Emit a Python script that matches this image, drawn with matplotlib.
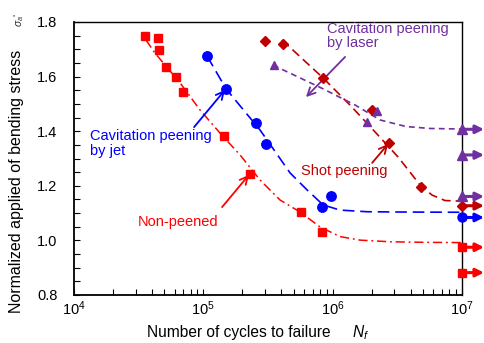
import numpy as np
import matplotlib
matplotlib.use("Agg")
import matplotlib.pyplot as plt
from matplotlib.ticker import LogLocator, MultipleLocator, FormatStrFormatter

plt.rcParams['font.family'] = ['Liberation Sans', 'DejaVu Sans']
plt.rcParams['mathtext.fontset'] = 'custom'
plt.rcParams['mathtext.rm'] = 'Liberation Sans'
plt.rcParams['mathtext.it'] = 'Liberation Sans:italic'

# ---------------- data ----------------
# Non-peened (red squares)
np_N = [35400, 44400, 45700, 51400, 61200, 69400, 143900, 229600, 570000, 824000]
np_S = [1.749, 1.742, 1.697, 1.636, 1.600, 1.544, 1.382, 1.243, 1.105, 1.031]
np_runout = [0.975, 0.882]
np_fit_N = [36000, 42300, 66100, 94200, 134600, 192300, 274800, 391700, 559800, 799800,
            1140000, 1630000, 2780000, 5000000, 10000000]
np_fit_S = [1.734, 1.686, 1.577, 1.478, 1.393, 1.313, 1.221, 1.148, 1.104, 1.049,
            1.014, 1.001, 0.995, 0.993, 0.992]

# Cavitation peening by jet (blue circles)
jet_N = [107400, 150700, 255700, 307000, 831000, 963000]
jet_S = [1.677, 1.555, 1.431, 1.354, 1.123, 1.163]
jet_runout = [1.084]
jet_fit_N = [106900, 150000, 274800, 468800, 633900, 843300, 1140000, 1850000, 3320000, 10000000]
jet_fit_S = [1.675, 1.555, 1.404, 1.247, 1.185, 1.130, 1.111, 1.105, 1.104, 1.103]

# Shot peening (dark red diamonds)
shot_N = [300000, 416000, 848000, 2000000, 2720000, 4830000]
shot_S = [1.732, 1.718, 1.596, 1.477, 1.355, 1.196]
shot_runout = [1.127]
shot_fit_N = [406000, 843300, 1360000, 2130000, 3210000, 4740000, 5870000, 7390000, 10000000]
shot_fit_S = [1.734, 1.595, 1.496, 1.397, 1.305, 1.203, 1.166, 1.146, 1.144]

# Cavitation peening by laser (purple triangles)
laser_N = [354000, 2190000, 1840000]
laser_S = [1.642, 1.474, 1.435]
laser_runout = [1.407, 1.313, 1.161]
laser_fit_N = [346000, 828000, 1490000, 2330000, 3700000, 5660000, 10000000]
laser_fit_S = [1.642, 1.557, 1.496, 1.441, 1.417, 1.410, 1.408]

RED = '#FF0000'
BLUE = '#0000FF'
DRED = '#C00000'
PURP = '#7030A0'

W, H = 485, 343
fig = plt.figure(figsize=(W / 100, H / 100), dpi=100)
ax = fig.add_axes([74 / W, 1 - 295 / H, (462 - 74) / W, (295 - 22) / H])

def fx(x):
    return x / W

def fy(y):
    return 1 - y / H

# fit curves
ax.plot(np_fit_N, np_fit_S, color=RED, lw=1.1, ls=(0, (6, 2.5, 1.2, 2.5)))
ax.plot(jet_fit_N, jet_fit_S, color=BLUE, lw=1.2, ls=(0, (7, 3.5)))
ax.plot(shot_fit_N, shot_fit_S, color=DRED, lw=1.2, ls=(0, (5.5, 3)))
ax.plot(laser_fit_N, laser_fit_S, color=PURP, lw=1.2, ls=(0, (3.5, 2.5)))

# data points
ax.plot(np_N, np_S, 's', color=RED, ms=5.8, zorder=5)
ax.plot(jet_N, jet_S, 'o', color=BLUE, ms=6.8, zorder=5)
ax.plot(shot_N, shot_S, 'D', color=DRED, ms=4.8, zorder=5)
ax.plot(laser_N, laser_S, '^', color=PURP, ms=6.3, zorder=5)

# runouts with arrows
TIP = 1.48e7
def runouts(vals, marker, color, ms):
    for v in vals:
        ax.annotate('', xy=(TIP, v), xytext=(1e7, v), xycoords='data',
                    arrowprops=dict(arrowstyle='-|>', lw=2.2, color=color,
                                    mutation_scale=12, shrinkA=0, shrinkB=0),
                    annotation_clip=False, zorder=6)
        ax.plot([1e7], [v], marker, color=color, ms=ms, clip_on=False, zorder=7)

runouts(np_runout, 's', RED, 6)
runouts(jet_runout, 'o', BLUE, 6.5)
runouts(shot_runout, 'D', DRED, 4.8)
runouts(laser_runout, '^', PURP, 6.5)

# annotation arrows
def arr(tail, head, color):
    ax.annotate('', xy=head, xytext=tail, xycoords='data',
                arrowprops=dict(arrowstyle='->', lw=1.3, color=color,
                                mutation_scale=14, shrinkA=0, shrinkB=0))

arr((84800, 1.415), (147000, 1.551), BLUE)
arr((139600, 1.122), (225300, 1.240), RED)
arr((2020000, 1.284), (2680000, 1.353), DRED)
arr((1247000, 1.672), (622000, 1.525), PURP)

fs = 10.5
fig.text(fx(90), fy(129), 'Cavitation peening\nby jet', color=BLUE, fontsize=fs,
         ha='left', va='top', linespacing=1.05)
fig.text(fx(138), fy(222), 'Non-peened', color=RED, fontsize=fs, ha='left', va='center')
fig.text(fx(301), fy(171), 'Shot peening', color=DRED, fontsize=fs, ha='left', va='center')
fig.text(fx(327), fy(21.5), 'Cavitation peening\nby laser', color=PURP, fontsize=fs,
         ha='left', va='top', linespacing=1.05)

# axes
ax.set_xscale('log')
ax.set_xlim(1e4, 1e7)
ax.set_ylim(0.8, 1.8)
ax.yaxis.set_major_locator(MultipleLocator(0.2))
ax.yaxis.set_minor_locator(MultipleLocator(0.05))
ax.yaxis.set_major_formatter(FormatStrFormatter('%.1f'))
ax.xaxis.set_major_locator(LogLocator(base=10, numticks=10))
ax.xaxis.set_minor_locator(LogLocator(base=10, subs=np.arange(2, 10), numticks=20))
ax.tick_params(axis='both', which='both', direction='in', top=False, right=False,
               length=4, width=0.8, labelsize=10.5, color='black')
ax.tick_params(axis='y', which='major', pad=12)
ax.tick_params(axis='x', which='major', pad=3)
for s in ax.spines.values():
    s.set_linewidth(1.0)
    s.set_color('black')
ax.spines['left'].set_linewidth(1.3)
ax.spines['bottom'].set_linewidth(1.3)

# axis labels
fig.text(fx(17), fy(181), 'Normalized applied of bending stress', rotation=90,
         fontsize=11.5, ha='center', va='center')
fig.text(fx(19), fy(20), r"$\sigma_a$'", rotation=90, fontsize=7.5,
         ha='center', va='center', color='#333333')
fig.text(fx(239), fy(333), 'Number of cycles to failure', fontsize=11.2,
         ha='center', va='center')
fig.text(fx(361), fy(333), r'$N_f$', fontsize=11.2, ha='center', va='center')

fig.savefig('out.png', dpi=100)
